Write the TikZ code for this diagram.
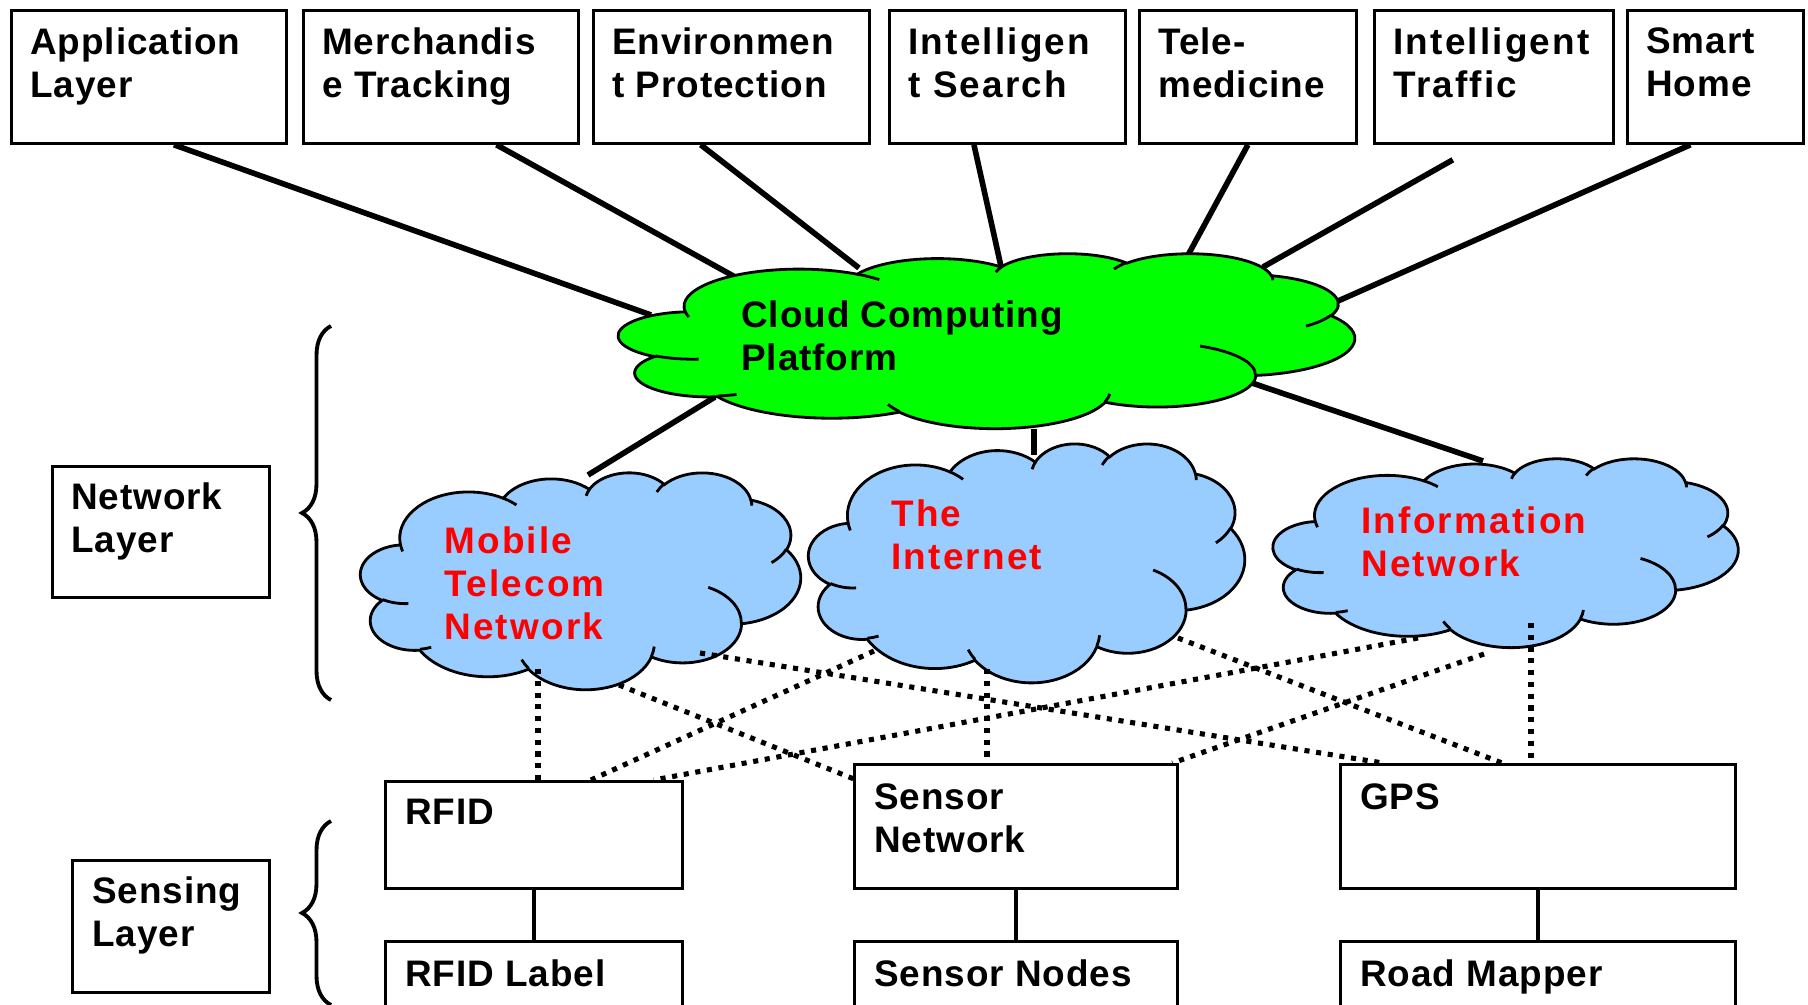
\documentclass[tikz,border=0pt]{standalone}
\usepackage{fontspec}
\setmainfont{Liberation Sans}[LetterSpace=2.5]
\usepackage{xcolor}
\definecolor{CloudGreen}{RGB}{0,255,0}
\definecolor{NetBlue}{RGB}{153,204,255}
\definecolor{NetRed}{RGB}{255,0,0}
\usetikzlibrary{calc,decorations.pathreplacing}

\begin{document}
\begin{tikzpicture}[x=0.2mm, y=-0.2mm,
    box/.style={
        draw=black, line width=1.6pt, fill=white,
        anchor=north west, inner sep=0pt
    },
    appbox/.style={
        box, minimum height=26.6mm
    },
    boxtext/.style={
        anchor=north west, inner sep=0pt, align=left,
        font=\bfseries\fontsize{21}{24.5}\selectfont, text=black
    },
    widetext/.style={
        boxtext, font=\bfseries\fontsize{21}{24.5}\selectfont\addfontfeatures{LetterSpace=6}
    },
    nettext/.style={
        widetext, text=NetRed
    },
    cloudarea/.style={
        rectangle, inner sep=0pt
    },
    pics/pptcloud/.style={code={
        \draw[pic actions] (390,1437)
            \foreach \wr/\hr/\st/\sw
                [evaluate=\st as \ta using {atan2(\wr*sin(\st),\hr*cos(\st))},
                 evaluate=\sw as \tb using {atan2(\wr*sin(\st+\sw),\hr*cos(\st+\sw))},
                 evaluate=\sw as \tc using {ifthenelse(\tb<\ta,\tb+360,\tb)}]
            in {675.3/919/-190.4875/123.7805, 533.3/726.7/-144.1024/89.9452,
                436.5/594.5/-145.8079/99.7230, 485.7/659.5/-130.9861/117.2417,
                533.3/727.3/-78.7089/109.0269, 677.5/922/-46.2673/130.2690,
                578.5/786.7/0.6250/114.0333,   675.2/921.5/22.4516/115.1726,
                772/1054.3/66.2426/75.7110,    436/591.8/-274.9421/146.7356,
                434.5/594.5/-246.8285/152.5189}
            { arc[start angle=\ta, end angle=\tc, x radius=\wr, y radius=\hr] } -- cycle;
        % petits arcs interieurs
        \foreach \mx/\my/\wr/\hr/\st/\sw
                [evaluate=\st as \ta using {atan2(\wr*sin(\st),\hr*cos(\st))},
                 evaluate=\sw as \tb using {atan2(\wr*sin(\st+\sw),\hr*cos(\st+\sw))},
                 evaluate=\sw as \tc using {ifthenelse(\tb<\ta,\tb+360,\tb)}]
            in {469.3/2617.7/434.5/594.5/86.742/26.4295,
                692.8/3489.9/436/591.8/73.6105/11.4475,
                1647.8/3909/675.2/921.5/137.6242/14.0811,
                2882.7/3475.1/675.2/921.5/6.4533/15.9984,
                3412.9/2295.4/578.5/786.7/-70.2924/70.9174,
                4179.8/1535.4/533.3/727.3/30.3180/27.7515,
                3832.4/542.6/485.7/659.5/-13.7443/14.8589,
                2907.8/395.2/485.7/659.5/-149.1815/18.1954,
                2214.1/472/436.5/594.5/-163.4943/17.6864,
                1400/519.2/675.3/919/-66.707/12.3194,
                412.7/1578.9/675.3/919/157.6544/11.8582}
            \draw[pic actions, fill=none] (\mx,\my)
                arc[start angle=\ta, end angle=\tc, x radius=\wr, y radius=\hr];
    }},
    ccloud/.style={
        draw=black, line width=1.6pt, fill=CloudGreen
    },
    ncloud/.style={
        draw=black, line width=1.6pt, fill=NetBlue
    },
    link/.style={
        line width=3.2pt, draw=black
    },
    thinlink/.style={
        line width=2.4pt, draw=black
    },
    dotlink/.style={
        line width=2.9pt, draw=black, dash pattern=on 2.9pt off 3.8pt
    },
    layerbrace/.style={
        decorate, decoration={brace, amplitude=5.8mm}, line width=2.2pt
    }
]

\path[use as bounding box, clip] (0,0) rectangle (1808,1005);

% ====== APPLICATION LAYER (en haut) ======
\node[appbox, minimum width=55mm]   (app)     at (10,9)   {};
\node[appbox, minimum width=55mm]   (merch)   at (302,9)  {};
\node[appbox, minimum width=55.2mm] (env)     at (592,9)  {};
\node[appbox, minimum width=47.2mm] (search)  at (888,9)  {};
\node[appbox, minimum width=43.4mm] (tele)    at (1138,9) {};
\node[appbox, minimum width=47.8mm] (traffic) at (1373,9) {};
\node[appbox, minimum width=35.2mm] (home)    at (1626,9) {};

\node[boxtext]  (app-txt)     at ([shift={(20,18)}]app.north west)     {Application\\Layer};
\node[boxtext]  (merch-txt)   at ([shift={(20,18)}]merch.north west)   {Merchandis\\e Tracking};
\node[boxtext]  (env-txt)     at ([shift={(20,18)}]env.north west)     {Environmen\\t Protection};
\node[widetext] (search-txt)  at ([shift={(20,18)}]search.north west)  {Intelligen\\t Search};
\node[boxtext]  (tele-txt)    at ([shift={(20,18)}]tele.north west)    {Tele-\\medicine};
\node[widetext] (traffic-txt) at ([shift={(20,18)}]traffic.north west) {Intelligent\\Traffic};
\node[boxtext]  (home-txt)    at ([shift={(20,18)}]home.north west)    {Smart\\Home};

% ====== NUAGES (zones) ======
\node[cloudarea, minimum width=147.2mm, minimum height=35mm]  (ccp)    at (987,341)  {};
\node[cloudarea, minimum width=88mm,    minimum height=43.4mm] (mobile) at (581,581)  {};
\node[cloudarea, minimum width=87.2mm,  minimum height=47.8mm] (inet)   at (1027,563) {};
\node[cloudarea, minimum width=93mm,    minimum height=37.8mm] (info)   at (1506,553) {};

\coordinate (inet-top)   at ($(inet.center)+(7,-108)$);
\coordinate (mobile-bot) at ($(mobile.center)+(-43,88)$);
\coordinate (inet-bot)   at ($(inet.center)+(-40,106)$);
\coordinate (info-bot)   at ($(info.center)+(25,70)$);

% ====== LIENS ======
\draw[link] ($(app.south west)!0.59!(app.south east)$)         -- ($(ccp.center)+(-336,-26)$);
\draw[link] ($(merch.south west)!0.70!(merch.south east)$)     -- ($(ccp.center)+(-241,-58)$);
\draw[link] ($(env.south west)!0.39!(env.south east)$)         -- ($(ccp.center)+(-128,-73)$);
\draw[link] ($(search.south west)!0.36!(search.south east)$)   -- ($(ccp.center)+(15,-70)$);
\draw[link] (tele.south)                                       -- ($(ccp.center)+(194,-73)$);
\draw[link] ($(traffic.south west)!0.33!(traffic.south east)+(0,15)$) -- ($(ccp.center)+(276,-74)$);
\draw[link] ($(home.south west)!0.36!(home.south east)$)       -- ($(ccp.center)+(351,-40)$);

\draw[link] ($(ccp.center)+(-272,56)$) -- ($(mobile.center)+(7,-106)$);
\draw[link] (inet-top) -- (inet-top |- ccp.south);
\draw[link] ($(ccp.center)+(262,41)$)  -- ($(info.center)+(-23,-92)$);

% ====== NUAGES ======
\pic[ccloud, x=0.034074mm, y=-0.0081019mm] at (ccp.north west)    {pptcloud};
\pic[ncloud, x=0.020370mm, y=-0.010046mm]  at (mobile.north west) {pptcloud};
\pic[ncloud, x=0.020185mm, y=-0.011065mm]  at (inet.north west)   {pptcloud};
\pic[ncloud, x=0.021528mm, y=-0.008750mm]  at (info.north west)   {pptcloud};

\node[boxtext] (ccp-txt)    at ([shift={(-246,-41)}]ccp.center)    {Cloud Computing\\Platform};
\node[nettext] (mobile-txt) at ([shift={(-137,-55)}]mobile.center) {Mobile\\Telecom\\Network};
\node[nettext] (inet-txt)   at ([shift={(-136,-64)}]inet.center)   {The\\Internet};
\node[nettext] (info-txt)   at ([shift={(-145,-47)}]info.center)   {Information\\Network};

% ====== COUCHES ======
\node[box, minimum width=43.4mm, minimum height=26.2mm] (netlayer)   at (51,465) {};
\node[box, minimum width=39.4mm, minimum height=26.4mm] (senselayer) at (71,859) {};
\node[boxtext] (netlayer-txt)   at ([shift={(20,17)}]netlayer.north west)   {Network\\Layer};
\node[boxtext] (senselayer-txt) at ([shift={(21,17)}]senselayer.north west) {Sensing\\Layer};

\draw[layerbrace] (331,700)  -- (331,326);
\draw[layerbrace] (331,1005) -- (331,821);

% ====== CAPTEURS ======
\node[box, minimum width=59.4mm, minimum height=21.4mm] (rfid)   at (384,780)  {};
\node[box, minimum width=64.6mm, minimum height=24.8mm] (sensor) at (853,763)  {};
\node[box, minimum width=79mm,   minimum height=24.8mm] (gps)    at (1339,763) {};
\node[box, minimum width=59.4mm, minimum height=16mm] (rfidlabel)   at (384,940)  {};
\node[box, minimum width=64.6mm, minimum height=16mm] (sensornodes) at (853,940)  {};
\node[box, minimum width=79mm,   minimum height=16mm] (roadmapper)  at (1339,940) {};

\node[boxtext] (rfid-txt)        at ([shift={(21,19)}]rfid.north west)        {RFID};
\node[boxtext] (sensor-txt)      at ([shift={(21,20)}]sensor.north west)      {Sensor\\Network};
\node[boxtext] (gps-txt)         at ([shift={(21,20)}]gps.north west)         {GPS};
\node[boxtext] (rfidlabel-txt)   at ([shift={(21,19)}]rfidlabel.north west)   {RFID Label};
\node[boxtext] (sensornodes-txt) at ([shift={(21,19)}]sensornodes.north west) {Sensor Nodes};
\node[boxtext] (roadmapper-txt)  at ([shift={(21,19)}]roadmapper.north west)  {Road Mapper};

% reseaux -> capteurs
\draw[dotlink] (mobile-bot)                  -- (mobile-bot |- rfid.north);
\draw[dotlink] ($(mobile.center)+(119,72)$)  -- ($(gps.north west)!0.11!(gps.north east)$);
\draw[dotlink] ($(mobile.center)+(38,104)$)  -- ($(sensor.north west)+(6,18)$);
\draw[dotlink] ($(inet.center)+(-153,88)$)   -- ($(rfid.north west)!0.69!(rfid.north east)$);
\draw[dotlink] (inet-bot)                    -- (inet-bot |- sensor.north);
\draw[dotlink] ($(inet.center)+(151,75)$)    -- ($(gps.north west)!0.41!(gps.north east)$);
\draw[dotlink] ($(info.center)+(-88,85)$)    -- ($(rfid.north west)!0.9!(rfid.north east)$);
\draw[dotlink] ($(info.center)+(-22,101)$)   -- ($(sensor.north west)!0.98!(sensor.north east)$);
\draw[dotlink] (info-bot)                    -- (info-bot |- gps.north);

\foreach \a/\b in {rfid/rfidlabel, sensor/sensornodes, gps/roadmapper}
    \draw[thinlink] (\a.south) -- (\b.north);

\end{tikzpicture}
\end{document}
